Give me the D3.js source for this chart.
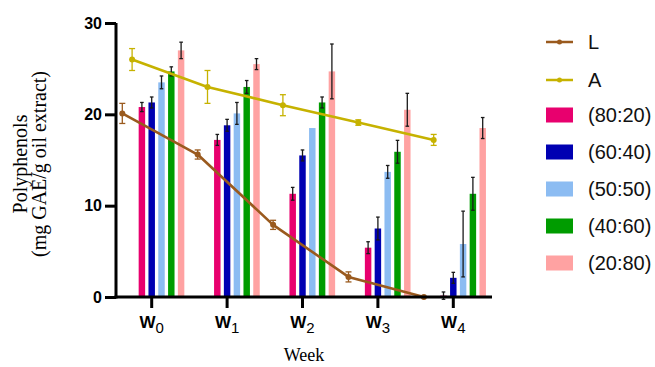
<!DOCTYPE html>
<html>
<head>
<meta charset="utf-8">
<script src="https://cdn.jsdelivr.net/npm/d3@7"></script>
<style>
  body { margin: 0; background: #fff; }
  svg { display: block; }
</style>
</head>
<body>
<svg id="chart" width="655" height="367"></svg>
<script>
// weeks on the x axis
const weeks = ['0', '1', '2', '3', '4'];

// line series (mean and error)
const lValues = [20.1, 15.6, 7.9, 2.2, 0];
const lErrors = [1.1, 0.5, 0.5, 0.55, 0];
const aValues = [26.0, 23.0, 21.0, 19.1, 17.2];
const aErrors = [1.2, 1.8, 1.15, 0.3, 0.6];

// bar series, one array per ratio
const barNames = ['(80:20)', '(60:40)', '(50:50)', '(40:60)', '(20:80)'];
const bar8020 = [20.8, 17.2, 11.3, 5.4, 0.15];
const bar6040 = [21.3, 18.8, 15.5, 7.5, 2.1];
const bar5050 = [23.5, 20.1, 18.5, 13.7, 5.8];
const bar4060 = [24.7, 23.0, 21.3, 15.9, 11.3];
const bar2080 = [27.0, 25.5, 24.7, 20.5, 18.5];
const err8020 = [0.5, 0.6, 0.7, 0.65, 0.4];
const err6040 = [0.6, 0.65, 0.6, 1.25, 0.6];
const err5050 = [0.7, 1.2, 0, 0.7, 3.6];
const err4060 = [0.5, 0.7, 0.6, 1.25, 1.8];
const err2080 = [0.9, 0.6, 3.0, 1.8, 1.15];

const yTicks = [0, 10, 20, 30];

const barColors = ['#e8006e', '#0000b2', '#8cbcf2', '#009c00', '#ffa2a2'];
const lColor = '#9a5a1e';
const aColor = '#c6b200';

let svg = d3.select('#chart');

let x = d3.scaleBand().domain(weeks).range([114, 491]).padding(0);
// 7 slots per week: L, A, then the five bars
let slots = ['L', 'A'].concat(barNames);
let sub = d3.scaleBand().domain(slots).range([-34.3, 34.3]).padding(0);
let slotX = (w, s) => x(w) + x.bandwidth() / 2 + sub(s) + sub.bandwidth() / 2;
let barW = sub.bandwidth() * 0.66;

let y = d3.scaleLinear().domain([0, 30]).range([297, 23]);

// bars
let barVals = [bar8020, bar6040, bar5050, bar4060, bar2080];
let barErrs = [err8020, err6040, err5050, err4060, err2080];
let barData = [];
barNames.forEach((name, i) => {
    weeks.forEach((w, j) => {
        barData.push({name: name, week: w, value: barVals[i][j], err: barErrs[i][j], color: barColors[i]});
    });
});

let bars = svg.append('g');
bars.selectAll('rect')
    .data(barData)
    .enter()
    .append('rect')
    .attr('x', d => slotX(d.week, d.name) - barW / 2)
    .attr('y', d => y(d.value))
    .attr('width', barW)
    .attr('height', d => y(0) - y(d.value))
    .style('fill', d => d.color);

// error bars helper
function errorBars(g, data, color, capW) {
    let e = g.selectAll('g.err')
        .data(data.filter(d => d.err > 0))
        .enter()
        .append('g')
        .attr('stroke', color)
        .attr('stroke-width', 1.3);
    e.append('line')
        .attr('x1', d => d.x).attr('x2', d => d.x)
        .attr('y1', d => y(d.value - d.err)).attr('y2', d => y(d.value + d.err));
    e.append('line')
        .attr('x1', d => d.x - capW).attr('x2', d => d.x + capW)
        .attr('y1', d => y(d.value + d.err)).attr('y2', d => y(d.value + d.err));
    e.append('line')
        .attr('x1', d => d.x - capW).attr('x2', d => d.x + capW)
        .attr('y1', d => y(d.value - d.err)).attr('y2', d => y(d.value - d.err));
}

errorBars(svg.append('g'), barData.map(d => ({x: slotX(d.week, d.name), value: d.value, err: d.err})), '#1a1a1a', 1.8);

// line series
function drawSeries(name, values, errs, color) {
    let pts = weeks.map((w, i) => ({x: slotX(w, name), value: values[i], err: errs[i]}));
    let g = svg.append('g');
    errorBars(g, pts, color, 3);
    let line = d3.line().x(d => d.x).y(d => y(d.value));
    g.append('path')
        .datum(pts)
        .attr('d', line)
        .attr('fill', 'none')
        .attr('stroke', color)
        .attr('stroke-width', 2.6)
        .attr('stroke-linejoin', 'round');
    g.selectAll('circle')
        .data(pts)
        .enter()
        .append('circle')
        .attr('cx', d => d.x)
        .attr('cy', d => y(d.value))
        .attr('r', 3)
        .attr('fill', color);
}
drawSeries('L', lValues, lErrors, lColor);
drawSeries('A', aValues, aErrors, aColor);

// axes
let yAxis = d3.axisLeft(y).tickValues(yTicks).tickSize(11).tickPadding(3);
svg.append('g')
    .attr('transform', 'translate(116,0)')
    .call(yAxis)
    .call(g => g.select('.domain').remove())
    .call(g => g.selectAll('.tick line').attr('stroke', '#000').attr('stroke-width', 3))
    .call(g => g.selectAll('.tick text')
        .style('font-family', 'Liberation Sans, Arial, sans-serif')
        .style('font-size', '16px')
        .style('font-weight', 'bold')
        .attr('fill', '#000'));

let xAxis = d3.axisBottom(x).tickSize(11).tickFormat('');
svg.append('g')
    .attr('transform', 'translate(0,297)')
    .call(xAxis)
    .call(g => g.select('.domain').remove())
    .call(g => g.selectAll('.tick line').attr('stroke', '#000').attr('stroke-width', 3));

svg.append('line')
    .attr('x1', 116).attr('x2', 116).attr('y1', 23).attr('y2', 298.5)
    .attr('stroke', '#000').attr('stroke-width', 3);
svg.append('line')
    .attr('x1', 114.5).attr('x2', 492).attr('y1', 297).attr('y2', 297)
    .attr('stroke', '#000').attr('stroke-width', 3);

// W labels with subscripts
let wl = svg.append('g')
    .selectAll('text')
    .data(weeks)
    .enter()
    .append('text')
    .attr('x', d => x(d) + x.bandwidth() / 2)
    .attr('y', 328)
    .attr('text-anchor', 'middle')
    .style('font-family', 'Liberation Sans, Arial, sans-serif')
    .attr('fill', '#000');
wl.append('tspan').text('W').style('font-size', '17px').style('font-weight', 'bold');
wl.append('tspan').text(d => d).attr('dy', 5).style('font-size', '15px');

// axis titles
svg.append('text')
    .attr('x', 304).attr('y', 361)
    .attr('text-anchor', 'middle')
    .style('font-family', 'Liberation Serif, Times New Roman, serif')
    .style('font-size', '18px')
    .text('Week');

let yt = svg.append('text')
    .attr('transform', 'translate(0,164) rotate(-90)')
    .attr('text-anchor', 'middle')
    .style('font-family', 'Liberation Serif, Times New Roman, serif')
    .style('font-size', '20px');
yt.append('tspan').attr('x', 0).attr('y', 27).text('Polyphenols');
yt.append('tspan').attr('x', 0).attr('y', 46).text('(mg GAE/g oil extract)');

// legend
let legend = svg.append('g').attr('transform', 'translate(546,0)');
let legItems = [
    {name: 'L', type: 'line', color: lColor},
    {name: 'A', type: 'line', color: aColor}
].concat(barNames.map((n, i) => ({name: n, type: 'rect', color: barColors[i]})));
let legY = [42, 80, 115, 152, 189, 226, 263];

let li = legend.selectAll('g')
    .data(legItems)
    .enter()
    .append('g')
    .attr('transform', (d, i) => `translate(0,${legY[i]})`);
li.filter(d => d.type === 'line').append('line')
    .attr('x1', 0).attr('x2', 27).attr('y1', 0).attr('y2', 0)
    .attr('stroke', d => d.color).attr('stroke-width', 2.5);
li.filter(d => d.type === 'line').append('circle')
    .attr('cx', 13.5).attr('cy', 0).attr('r', 2.5)
    .attr('fill', d => d.color);
li.filter(d => d.type === 'rect').append('rect')
    .attr('x', 0).attr('y', -7.5).attr('width', 27).attr('height', 15)
    .attr('fill', d => d.color);
li.append('text')
    .attr('x', 42).attr('y', 7)
    .style('font-family', 'Liberation Sans, Arial, sans-serif')
    .style('font-size', '20px')
    .attr('fill', '#111')
    .text(d => d.name);
</script>
</body>
</html>
